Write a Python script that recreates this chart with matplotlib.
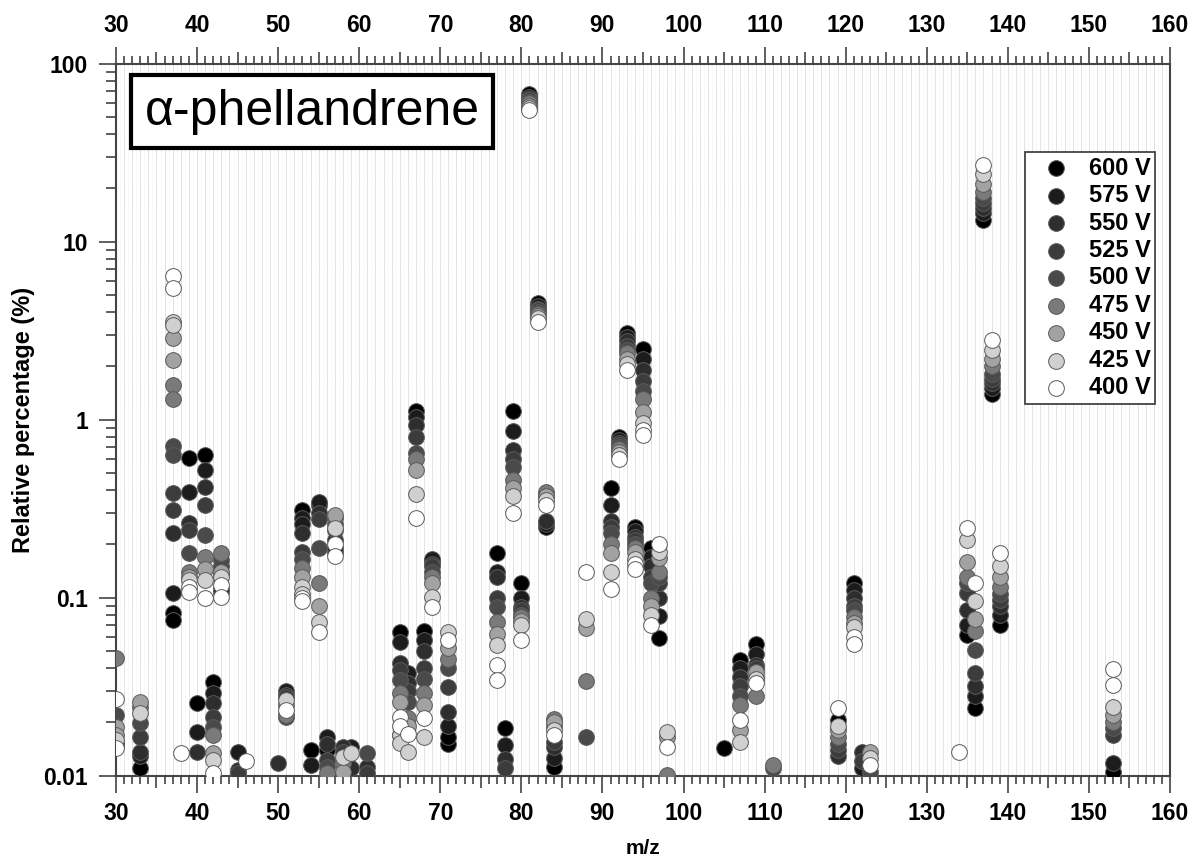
import numpy as np
import matplotlib
matplotlib.use("Agg")
import matplotlib.pyplot as plt
from matplotlib.ticker import MultipleLocator, LogLocator, FixedLocator, FixedFormatter, NullFormatter

N = np.nan

# m/z columns (a repeated m/z carries a second replicate)
mz = [30, 30, 33, 37, 37, 38, 39, 39, 40, 41,
      42, 43, 43, 45, 46, 50, 51, 53, 53, 54,
      55, 56, 57, 57, 58, 59, 61, 65, 65, 66,
      67, 68, 69, 71, 71, 77, 77, 78, 79, 80,
      81, 82, 83, 84, 88, 91, 92, 93, 94, 94,
      95, 95, 96, 97, 98, 105, 107, 109, 111, 119,
      121, 121, 122, 123, 134, 135, 136, 137, 138, 139,
      153, 153]

voltages = ['600 V', '575 V', '550 V', '525 V', '500 V', '475 V', '450 V', '425 V', '400 V']
shades = ['#000000', '#1c1c1c', '#2e2e2e', '#3c3c3c', '#4a4a4a',
          '#7a7a7a', '#a2a2a2', '#d0d0d0', '#ffffff']

# relative percentage (%) per voltage, aligned with mz
v600 = [N, N, 0.011, 0.0815, 0.0748, N, 0.605, N, 0.0254, 0.63,
        0.0334, 0.107, N, N, N, N, N, 0.31, N, 0.0139,
        0.33, 0.0139, 0.18, N, N, N, N, 0.064, N, N,
        1.12, 0.065, 0.16, 0.015, 0.0165, 0.177, N, 0.0184, 1.12, 0.12,
        67, 4.5, 0.25, 0.0112, N, 0.41, 0.8, 3.05, 0.25, N,
        2.5, N, 0.19, 0.0594, N, 0.0142, 0.0446, 0.055, N, 0.0205,
        0.12, N, N, N, N, 0.0616, 0.0239, 13.2, 1.4, 0.07,
        0.0105, N]
v575 = [0.0148, N, 0.0128, 0.106, N, N, 0.393, N, 0.0176, 0.52,
        0.029, 0.112, N, 0.0136, N, N, 0.030, 0.28, 0.26, 0.0115,
        0.345, 0.0165, 0.19, N, N, 0.0145, N, 0.056, N, 0.0376,
        1.03, 0.058, 0.165, 0.019, N, 0.14, N, 0.0148, 0.86, 0.1,
        65, 4.35, 0.26, 0.0125, N, 0.33, 0.77, 2.9, 0.235, N,
        2.2, N, 0.17, 0.079, N, N, 0.04, 0.048, N, N,
        0.11, N, 0.011, N, N, 0.07, 0.028, 14.5, 1.5, 0.08,
        0.0117, N]
v550 = [0.015, N, 0.0136, 0.23, N, N, 0.261, N, 0.0136, 0.42,
        0.0254, 0.135, N, 0.0107, N, 0.0118, 0.0285, 0.23, N, N,
        0.3, 0.015, 0.21, N, 0.0145, 0.011, 0.0112, 0.043, N, 0.033,
        0.93, 0.05, 0.155, 0.0228, N, 0.13, N, 0.0124, 0.67, 0.089,
        63, 4.2, 0.27, 0.0145, N, 0.27, 0.74, 2.75, 0.22, N,
        1.9, N, 0.15, 0.1, N, N, 0.036, 0.042, N, 0.0128,
        0.1, N, 0.0136, N, N, 0.085, 0.032, 15.5, 1.6, 0.09,
        N, N]
v525 = [0.0155, N, 0.0165, 0.385, 0.31, N, 0.24, N, N, 0.33,
        0.0214, 0.15, N, 0.0103, N, N, 0.0277, 0.18, N, N,
        0.275, 0.0122, 0.24, N, 0.0135, N, 0.0103, 0.039, N, 0.03,
        0.8, 0.04, 0.15, 0.0316, N, 0.099, N, 0.011, 0.6, 0.085,
        62, 4.1, 0.37, 0.0155, N, 0.25, 0.72, 2.6, 0.21, N,
        1.65, N, 0.13, 0.12, N, N, 0.032, 0.04, N, 0.014,
        0.09, N, 0.012, N, N, 0.106, 0.0375, 16.5, 1.7, 0.097,
        0.017, N]
v500 = [0.022, N, 0.0197, 0.71, 0.63, N, 0.177, N, N, 0.225,
        0.0188, 0.162, N, N, N, N, 0.0214, 0.165, N, N,
        0.19, 0.0112, 0.26, N, N, N, 0.0134, 0.0345, N, 0.026,
        0.65, 0.035, 0.14, 0.04, N, 0.088, N, N, 0.54, 0.08,
        61, 4.0, 0.38, 0.019, 0.0165, 0.23, 0.7, 2.45, 0.2, N,
        1.45, N, 0.12, 0.13, N, N, 0.028, 0.036, 0.011, 0.015,
        0.085, N, N, 0.0105, N, 0.12, 0.0507, 17.5, 1.8, 0.105,
        0.0184, N]
v475 = [0.046, N, 0.0244, 1.56, 1.30, N, 0.14, N, N, 0.17,
        0.0169, 0.177, N, N, N, N, 0.022, 0.147, N, N,
        0.12, 0.0104, 0.28, N, 0.0117, N, N, 0.029, N, 0.021,
        0.6, 0.029, 0.13, 0.045, N, 0.0732, N, N, 0.46, 0.078,
        60, 3.9, 0.39, 0.0209, 0.034, 0.2, 0.68, 2.35, 0.19, N,
        1.3, N, 0.1, 0.14, 0.0101, N, 0.025, 0.028, 0.0114, 0.0165,
        0.078, N, N, N, N, 0.131, 0.065, 19, 2.0, 0.115,
        0.02, N]
v450 = [0.0188, 0.017, 0.026, 2.86, 2.16, N, 0.13, N, N, 0.145,
        0.0133, 0.14, N, N, N, N, 0.025, 0.131, N, N,
        0.09, N, 0.29, N, 0.0105, N, N, 0.026, 0.017, 0.019,
        0.52, 0.025, 0.12, 0.052, N, 0.062, N, N, 0.41, 0.074,
        58, 3.8, 0.37, 0.02, 0.067, 0.177, 0.66, 2.2, 0.18, N,
        1.1, N, 0.09, 0.166, 0.0165, N, 0.018, 0.038, N, 0.018,
        0.072, N, N, 0.0136, N, 0.159, 0.076, 21, 2.2, 0.13,
        0.022, N]
v425 = [0.0158, N, 0.0224, 3.54, 3.4, N, 0.125, N, N, 0.125,
        0.0122, 0.13, N, N, N, N, 0.0265, 0.114, 0.105, N,
        0.073, N, 0.245, N, 0.0127, 0.0133, N, 0.0168, 0.0152, 0.0136,
        0.38, 0.0165, 0.101, 0.064, N, 0.054, N, N, 0.37, 0.07,
        56, 3.7, 0.355, 0.018, 0.076, 0.14, 0.63, 2.05, 0.165, N,
        0.95, N, 0.08, 0.18, 0.0176, N, 0.0155, 0.035, N, 0.019,
        0.068, N, N, 0.0125, N, 0.21, 0.095, 24, 2.45, 0.15,
        0.0244, N]
v400 = [0.027, 0.0143, N, 6.4, 5.46, 0.0134, 0.114, 0.108, N, 0.1,
        0.0103, 0.118, 0.101, N, 0.012, N, 0.0234, 0.1, 0.096, N,
        0.064, N, 0.2, 0.172, N, N, N, 0.0214, 0.019, 0.0172,
        0.278, 0.021, 0.089, 0.058, N, 0.0417, 0.0343, N, 0.297, 0.0577,
        54.8, 3.54, 0.33, 0.0169, 0.14, 0.112, 0.6, 1.9, 0.155, 0.145,
        0.87, 0.82, 0.07, 0.2, 0.0145, N, 0.0205, 0.033, N, 0.0239,
        0.0601, 0.0547, N, 0.0114, 0.0136, 0.245, 0.12, 27, 2.8, 0.177,
        0.0399, 0.0322]

series = [v600, v575, v550, v525, v500, v475, v450, v425, v400]

plt.rcParams['font.family'] = ['Liberation Sans', 'DejaVu Sans']
plt.rcParams['font.weight'] = 'bold'

fig = plt.figure(figsize=(11.93, 8.56), dpi=100)
ax = fig.add_axes([0.0972, 0.094, 0.8835, 0.8318])

# background vertical grid
for g in np.arange(30, 160.01, 1):
    ax.axvline(g, color='#e3e3e3', lw=0.7, zorder=0)
for g in np.arange(30.5, 160, 1):
    ax.axvline(g, color='#ececec', lw=0.6, ls=(0, (1, 1.5)), zorder=0)

for vals, lab, col in zip(series, voltages, shades):
    ax.scatter(mz, vals, s=128, c=col, edgecolors='#5a5a5a', linewidths=0.7,
               label=lab, zorder=3)

ax.set_yscale('log')
ax.set_xlim(30, 160)
ax.set_ylim(0.01, 100)

ax.xaxis.set_major_locator(MultipleLocator(10))
ax.xaxis.set_minor_locator(MultipleLocator(1))
ax.yaxis.set_major_locator(FixedLocator([0.01, 0.1, 1, 10, 100]))
ax.yaxis.set_major_formatter(FixedFormatter(['0.01', '0.1', '1', '10', '100']))
ax.yaxis.set_minor_locator(LogLocator(base=10, subs=np.arange(2, 10)))
ax.yaxis.set_minor_formatter(NullFormatter())

ax.tick_params(axis='x', which='both', direction='out', top=True, labeltop=True,
               bottom=True, labelbottom=True, color='#333333', width=1.1)
ax.tick_params(axis='x', which='major', length=12, labelsize=16.5, pad=7)
ax.tick_params(axis='x', which='minor', length=5.8)
ax.tick_params(axis='y', which='both', direction='out', right=False,
               color='#333333', width=1.1)
ax.tick_params(axis='y', which='major', length=12, labelsize=16.5, pad=8)
ax.tick_params(axis='y', which='minor', length=7)

fig.canvas.draw()
for t in ax.xaxis.get_minor_ticks():
    if abs(t.get_loc() % 10 - 5) < 1e-6:
        t.tick1line.set_markersize(8.6)
        t.tick2line.set_markersize(8.6)

for sp in ax.spines.values():
    sp.set_color('#444444')
    sp.set_linewidth(1.5)

ax.set_xlabel('m/z', fontsize=15, fontweight='bold', labelpad=10)
ax.set_ylabel('Relative percentage (%)', fontsize=17, fontweight='bold', labelpad=6)

ax.text(0.186, 0.932, 'α-phellandrene', transform=ax.transAxes, fontsize=36,
        fontweight='normal', ha='center', va='center', zorder=5,
        bbox=dict(boxstyle='square,pad=0.27', fc='white', ec='black', lw=3))

leg = ax.legend(loc='upper right', bbox_to_anchor=(0.986, 0.876), frameon=True,
                fancybox=False, framealpha=1, edgecolor='#444444',
                prop={'size': 17, 'weight': 'bold'}, handlelength=2.2,
                handletextpad=0.3, labelspacing=0.19, borderpad=0.2,
                borderaxespad=0, markerscale=1.0)
leg.get_frame().set_linewidth(1.3)
leg.set_zorder(6)

fig.savefig('out.png', dpi=100)
